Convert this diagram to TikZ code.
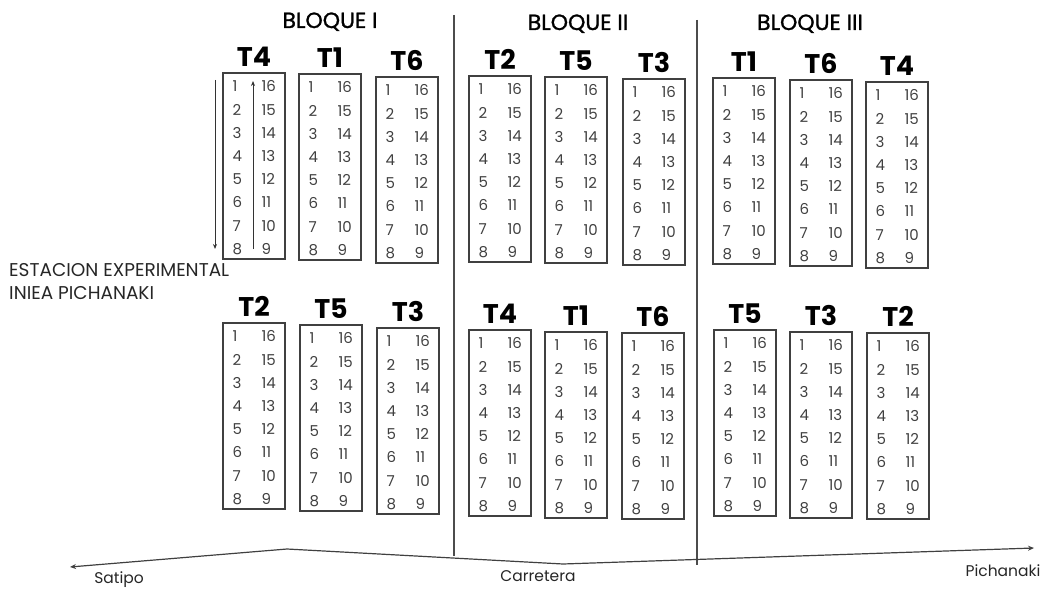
\documentclass[tikz,border=0pt]{standalone}
\usepackage{fontspec}
\setmainfont{Poppins}
\newfontfamily\bloquefont{Poppins}[FakeBold=1.2]
\usetikzlibrary{positioning,arrows.meta}

\tikzset{
  caja/.style={draw=black!75,line width=1.1pt,minimum width=62pt,minimum height=186pt,inner sep=0pt},
  trat/.style={font=\fontsize{27}{27}\selectfont\bfseries,inner sep=0pt,anchor=base},
  num/.style={font=\fontsize{15}{15}\selectfont,text=black!75,inner sep=0pt,anchor=west},
  bloque/.style={font=\fontsize{22}{22}\selectfont\bloquefont,inner sep=0pt,anchor=base},
  nota/.style={font=\fontsize{15.5}{15.5}\selectfont,inner sep=0pt,text=black!85},
  flecha/.style={-{Stealth[length=5pt,width=4pt]},line width=0.9pt,black!80},
}

% parcela: nombre, tratamiento, x izq, y sup
\newcommand{\parcela}[4]{%
  \node[caja] (#1) at (#3+31,#4+93) {};
  \node[trat] (#1-t) at ([yshift=6pt]#1.north) {#2};
  \foreach \i in {1,...,8}{
    \pgfmathtruncatemacro{\j}{17-\i}
    \path (#1.north west) ++(10,{14+23.2*(\i-1)}) node[num] (#1-l\i) {\i}
          (#1.north west) ++(39,{14+23.2*(\i-1)}) node[num] (#1-r\i) {\j};
  }%
}

\begin{document}
\begin{tikzpicture}[x=1pt,y=-1pt]
\useasboundingbox (0,0) rectangle (1048,591);

% bloques
\node[bloque] (bloque1) at (330,28) {BLOQUE I};
\node[bloque] (bloque2) at (578,30) {BLOQUE II};
\node[bloque] (bloque3) at (810,30) {BLOQUE III};

% divisiones
\coordinate (d1a) at (454,15);
\coordinate (d1b) at (454,556);
\coordinate (d2a) at (697,20);
\coordinate (d2b) at (697,565);
\draw[line width=1.1pt,black!70] (d1a) -- (d1b);
\draw[line width=1.1pt,black!70] (d2a) -- (d2b);

% fila superior
\parcela{a1}{T4}{223}{73}
\parcela{a2}{T1}{299}{74}
\parcela{a3}{T6}{376}{77}
\parcela{b1}{T2}{469}{76}
\parcela{b2}{T5}{545}{77}
\parcela{b3}{T3}{623}{79}
\parcela{c1}{T1}{713}{78}
\parcela{c2}{T6}{790}{80}
\parcela{c3}{T4}{866}{82}

% fila inferior
\parcela{d1}{T2}{223}{323}
\parcela{d2}{T5}{300}{325}
\parcela{d3}{T3}{377}{328}
\parcela{e1}{T4}{469}{330}
\parcela{e2}{T1}{545}{332}
\parcela{e3}{T6}{622}{333}
\parcela{f1}{T5}{714}{330}
\parcela{f2}{T3}{790}{332}
\parcela{f3}{T2}{867}{333}

% recorrido
\coordinate (ba) at (215,80);
\coordinate (bb) at (215,249);
\coordinate (sa) at (253,249);
\coordinate (sb) at (253,81);
\draw[flecha] (ba) -- (bb);
\draw[flecha] (sa) -- (sb);

\node[nota,font=\fontsize{18.5}{23}\selectfont,align=left,anchor=north west] (estacion) at (9,263) {ESTACION EXPERIMENTAL\\INIEA PICHANAKI};

% carretera
\coordinate (satipo-c) at (70,567);
\coordinate (pico) at (287,549);
\coordinate (valle) at (563,564);
\coordinate (pich-c) at (1034,548);
\draw[{Stealth[length=6pt,width=5pt]}-{Stealth[length=6pt,width=5pt]},line width=1.2pt,black!75]
  (satipo-c) -- (pico) -- (valle) -- (pich-c);
\node[nota] (satipo) at (119,580) {Satipo};
\node[nota] (carretera) at (538,576) {Carretera};
\node[nota] (pichanaki) at (1003,571) {Pichanaki};
\end{tikzpicture}
\end{document}
